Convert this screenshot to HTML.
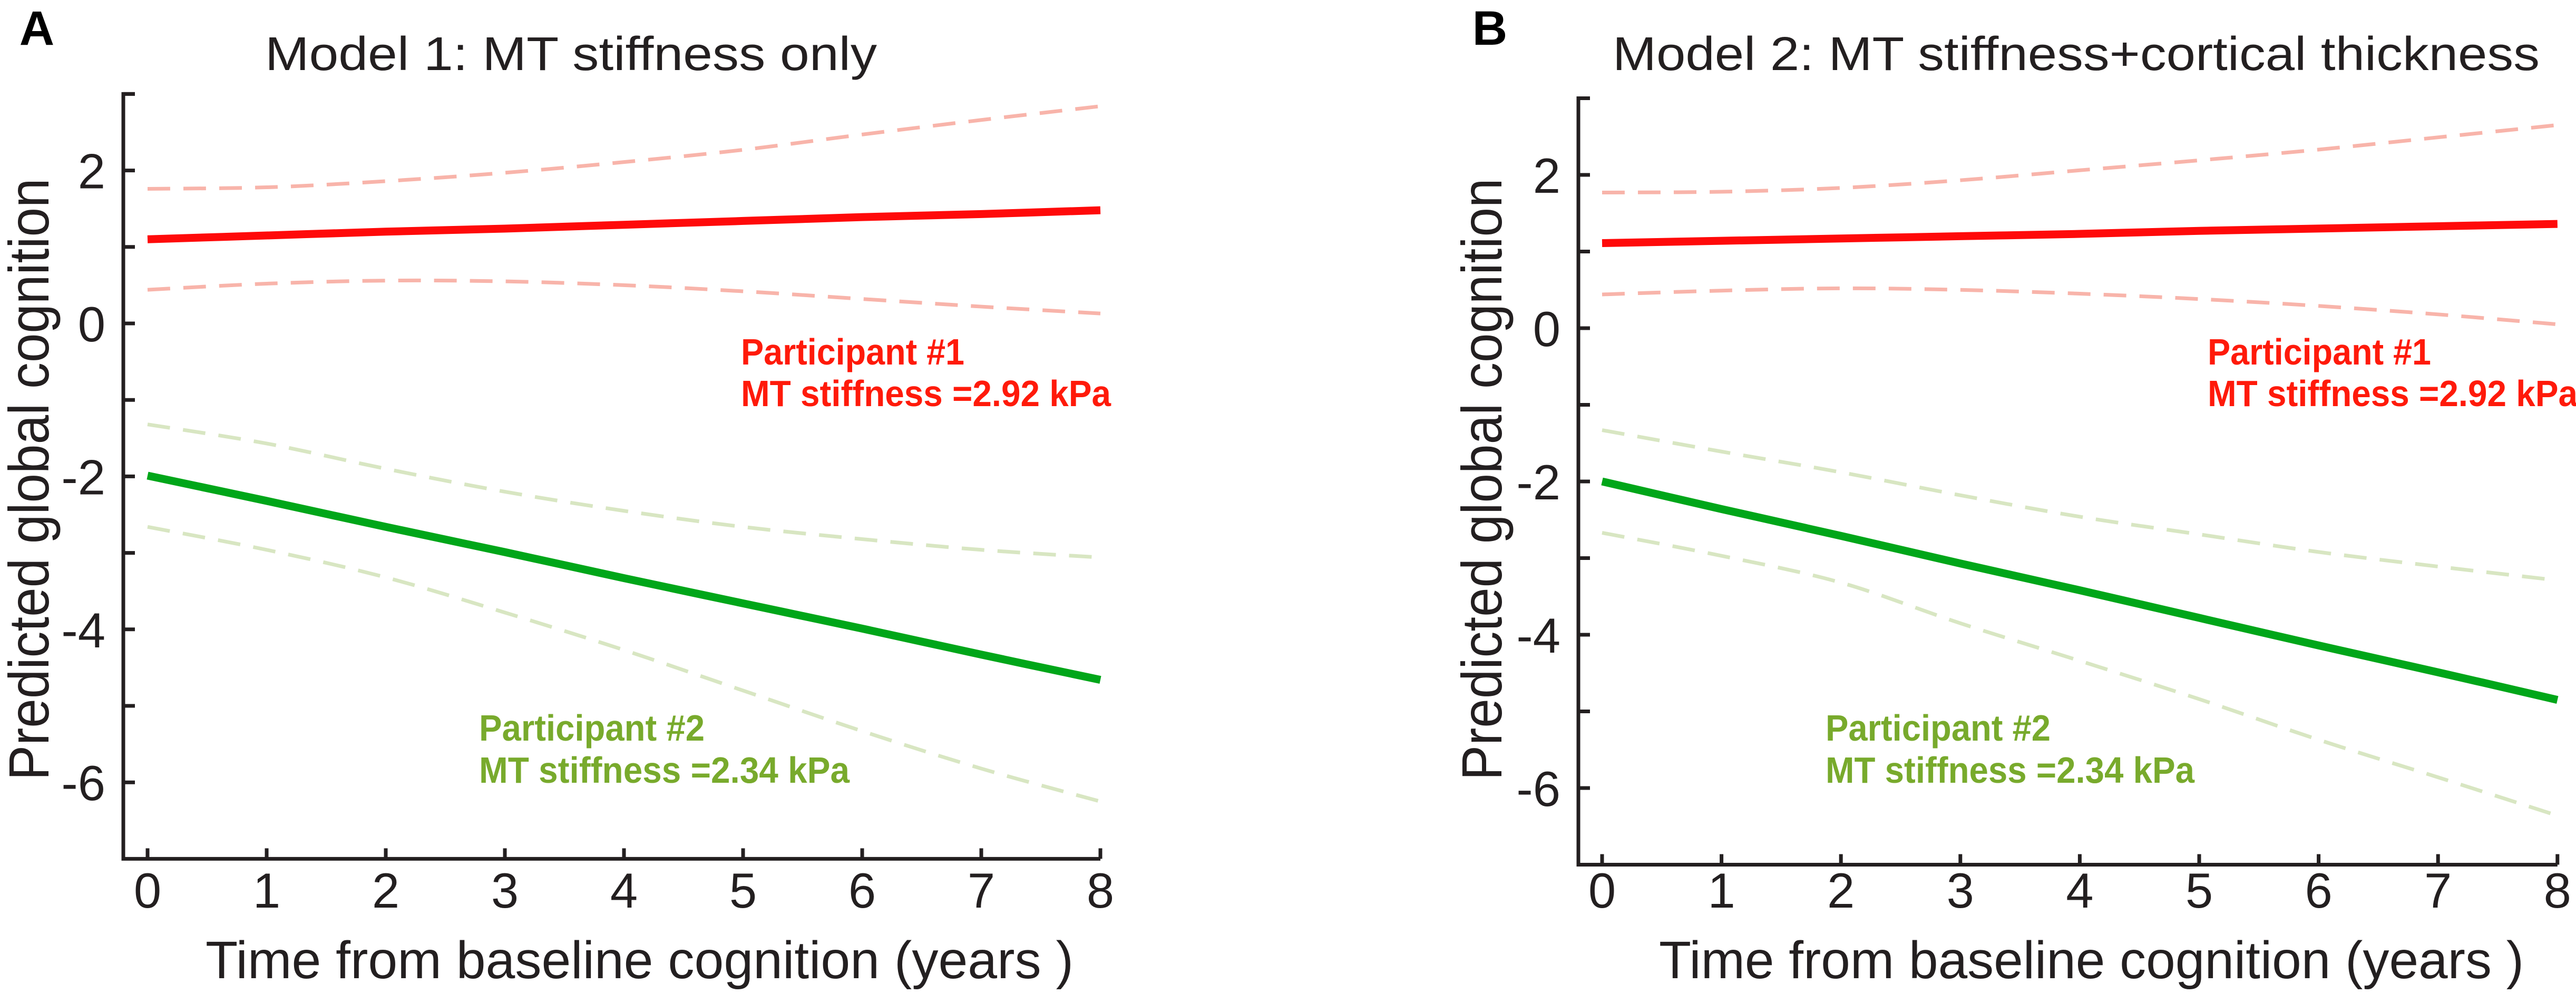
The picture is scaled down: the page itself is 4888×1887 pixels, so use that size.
<!DOCTYPE html>
<html><head><meta charset="utf-8"><style>
html,body{margin:0;padding:0;background:#fff;}
svg{display:block;}
text{font-family:"Liberation Sans",Arial,sans-serif;}
</style></head><body>
<svg id="fig" width="4888" height="1887" viewBox="0 0 4888 1887" xmlns="http://www.w3.org/2000/svg"></svg>
<script>
const years = [0, 1, 2, 3, 4, 5, 6, 7, 8];
const xTicks = [0,1,2,3,4,5,6,7,8];
const yTicks = [2,0,-2,-4,-6];
const yMinorTicks = [3,1,-1,-3,-5];
// Panel A
const a_red = [1.10, 1.15, 1.20, 1.24, 1.29, 1.34, 1.39, 1.43, 1.48];
const a_redUp = [1.76, 1.78, 1.86, 1.97, 2.11, 2.27, 2.47, 2.66, 2.84];
const a_redLo = [0.44, 0.52, 0.56, 0.55, 0.50, 0.42, 0.32, 0.22, 0.13];
const a_green = [-1.99, -2.32, -2.66, -2.99, -3.33, -3.66, -3.99, -4.33, -4.66];
const a_greenUp = [-1.32, -1.57, -1.90, -2.20, -2.45, -2.66, -2.82, -2.96, -3.06];
const a_greenLo = [-2.66, -2.96, -3.32, -3.78, -4.27, -4.80, -5.33, -5.82, -6.25];
// Panel B
const b_red = [1.11, 1.14, 1.17, 1.20, 1.23, 1.27, 1.30, 1.33, 1.36];
const b_redUp = [1.77, 1.78, 1.83, 1.93, 2.06, 2.19, 2.33, 2.49, 2.65];
const b_redLo = [0.44, 0.49, 0.52, 0.50, 0.45, 0.38, 0.29, 0.18, 0.05];
const b_green = [-2.00, -2.36, -2.71, -3.07, -3.42, -3.78, -4.14, -4.49, -4.85];
const b_greenUp = [-1.33, -1.61, -1.88, -2.18, -2.46, -2.69, -2.92, -3.11, -3.29];
const b_greenLo = [-2.67, -2.97, -3.32, -3.85, -4.34, -4.84, -5.37, -5.86, -6.36];

const NS = "http://www.w3.org/2000/svg";
const svg = document.getElementById('fig');
function mk(tag, attrs, parent, txt){
  const e = document.createElementNS(NS, tag);
  for (const k in attrs) e.setAttribute(k, attrs[k]);
  if (txt !== undefined) e.textContent = txt;
  (parent||svg).appendChild(e);
  return e;
}
function smoothPath(pts){
  let d = "M"+pts[0][0]+","+pts[0][1];
  for (let i=0;i<pts.length-1;i++){
    const p0=pts[Math.max(0,i-1)], p1=pts[i], p2=pts[i+1], p3=pts[Math.min(pts.length-1,i+2)];
    const c1x=p1[0]+(p2[0]-p0[0])/6, c1y=p1[1]+(p2[1]-p0[1])/6;
    const c2x=p2[0]-(p3[0]-p1[0])/6, c2y=p2[1]-(p3[1]-p1[1])/6;
    d += " C"+c1x+","+c1y+" "+c2x+","+c2y+" "+p2[0]+","+p2[1];
  }
  return d;
}
function panel(cfg){
  const g = mk('g', {});
  
  
  const xs = v => cfg.x0 + v*cfg.xu;
  const ys = v => cfg.y0 - v*cfg.yu;
  const yTop = ys(3), yBot = ys(-7);
  const ax = mk('path', {d:"M"+(cfg.axX+22)+","+yTop+" H"+cfg.axX+" V"+yBot+" H"+xs(8), fill:"none", stroke:"#231f20", "stroke-width":7}, g);
  
  
  yTicks.concat(yMinorTicks).forEach(v=>{
    const t = mk('line', {x1:cfg.axX, x2:cfg.axX+22, y1:ys(v), y2:ys(v), stroke:"#231f20","stroke-width":7}, g);
    
    
  });
  yTicks.forEach(v=>{
    const t = mk('text', {x:cfg.axX-34, y:ys(v)+34, "text-anchor":"end", "font-size":94, fill:"#231f20"}, g, String(v));
    
    
  });
  xTicks.forEach(v=>{
    const t = mk('line', {x1:xs(v), x2:xs(v), y1:yBot, y2:yBot-20, stroke:"#231f20","stroke-width":7}, g);
    
    
    const l = mk('text', {x:xs(v), y:1723, "text-anchor":"middle", "font-size":94, fill:"#231f20"}, g, String(v));
    
    
  });
  const series = [
    [cfg.redUp, "#f8b4aa", 7, "43 25", 'red-upper-ci'],
    [cfg.redLo, "#f8b4aa", 7, "43 25", 'red-lower-ci'],
    [cfg.greenUp, "#d8e6c2", 7, "43 25", 'green-upper-ci'],
    [cfg.greenLo, "#d8e6c2", 7, "43 25", 'green-lower-ci'],
    [cfg.red, "#ff0a0a", 15, "none", 'red-line-participant-1'],
    [cfg.green, "#00a619", 15, "none", 'green-line-participant-2']
  ];
  series.forEach(s=>{
    const pts = years.map((yr,i)=>[xs(yr), ys(s[0][i])]);
    const p = mk('path', {d:smoothPath(pts), fill:"none", stroke:s[1], "stroke-width":s[2], "stroke-dasharray":s[3]}, g);
    
    
  });
  const pl = mk('text', {x:cfg.panelX, y:85, "text-anchor":"middle", "font-size":92, "font-weight":"bold", fill:"#000"}, g, cfg.letter);
  
  
  const ti = mk('text', {x:cfg.tX, y:133, "font-size":90, fill:"#231f20", textLength:cfg.tW, lengthAdjust:"spacingAndGlyphs"}, g, cfg.title);
  
  
  const yl = mk('text', {x:0, y:0, transform:"translate("+cfg.ylX+",910) rotate(-90)", "text-anchor":"middle", "font-size":108, fill:"#231f20", textLength:1143, lengthAdjust:"spacingAndGlyphs"}, g, "Predicted global cognition");
  
  
  const xl = mk('text', {x:cfg.xlX, y:1857, "font-size":100, fill:"#231f20", textLength:cfg.xlW, lengthAdjust:"spacingAndGlyphs"}, g, "Time from baseline cognition (years )");
  
  
  const anns = [
    [cfg.r1x, 692, cfg.r1w, "#ff1a0a", "Participant #1", 'annotation-participant-1'],
    [cfg.r1x, 771, cfg.r2w, "#ff1a0a", "MT stiffness =2.92 kPa", 'annotation-stiffness-1'],
    [cfg.g1x, 1406, cfg.g1w, "#78aa2c", "Participant #2", 'annotation-participant-2'],
    [cfg.g1x, 1486, cfg.g2w, "#78aa2c", "MT stiffness =2.34 kPa", 'annotation-stiffness-2']
  ];
  anns.forEach(a=>{
    const t = mk('text', {x:a[0], y:a[1], "font-size":70, "font-weight":"bold", fill:a[3], textLength:a[2], lengthAdjust:"spacingAndGlyphs"}, g, a[4]);
    
    
  });
}
panel({name:'panel-a', letter:'A', panelX:70, x0:280, xu:226, y0:614, yu:145.2, axX:234,
  title:'Model 1: MT stiffness only', tX:503, tW:1161, ylX:92, xlX:390, xlW:1647,
  red:a_red, redUp:a_redUp, redLo:a_redLo, green:a_green, greenUp:a_greenUp, greenLo:a_greenLo,
  r1x:1406, r1w:424, r2w:702, g1x:909, g1w:428, g2w:703});
panel({name:'panel-b', letter:'B', panelX:2827, x0:3040, xu:226.6, y0:623, yu:145.5, axX:2995,
  title:'Model 2: MT stiffness+cortical thickness', tX:3060, tW:1759, ylX:2849, xlX:3148, xlW:1641,
  red:b_red, redUp:b_redUp, redLo:b_redLo, green:b_green, greenUp:b_greenUp, greenLo:b_greenLo,
  r1x:4189, r1w:424, r2w:702, g1x:3464, g1w:427, g2w:700});
</script>
</body></html>
